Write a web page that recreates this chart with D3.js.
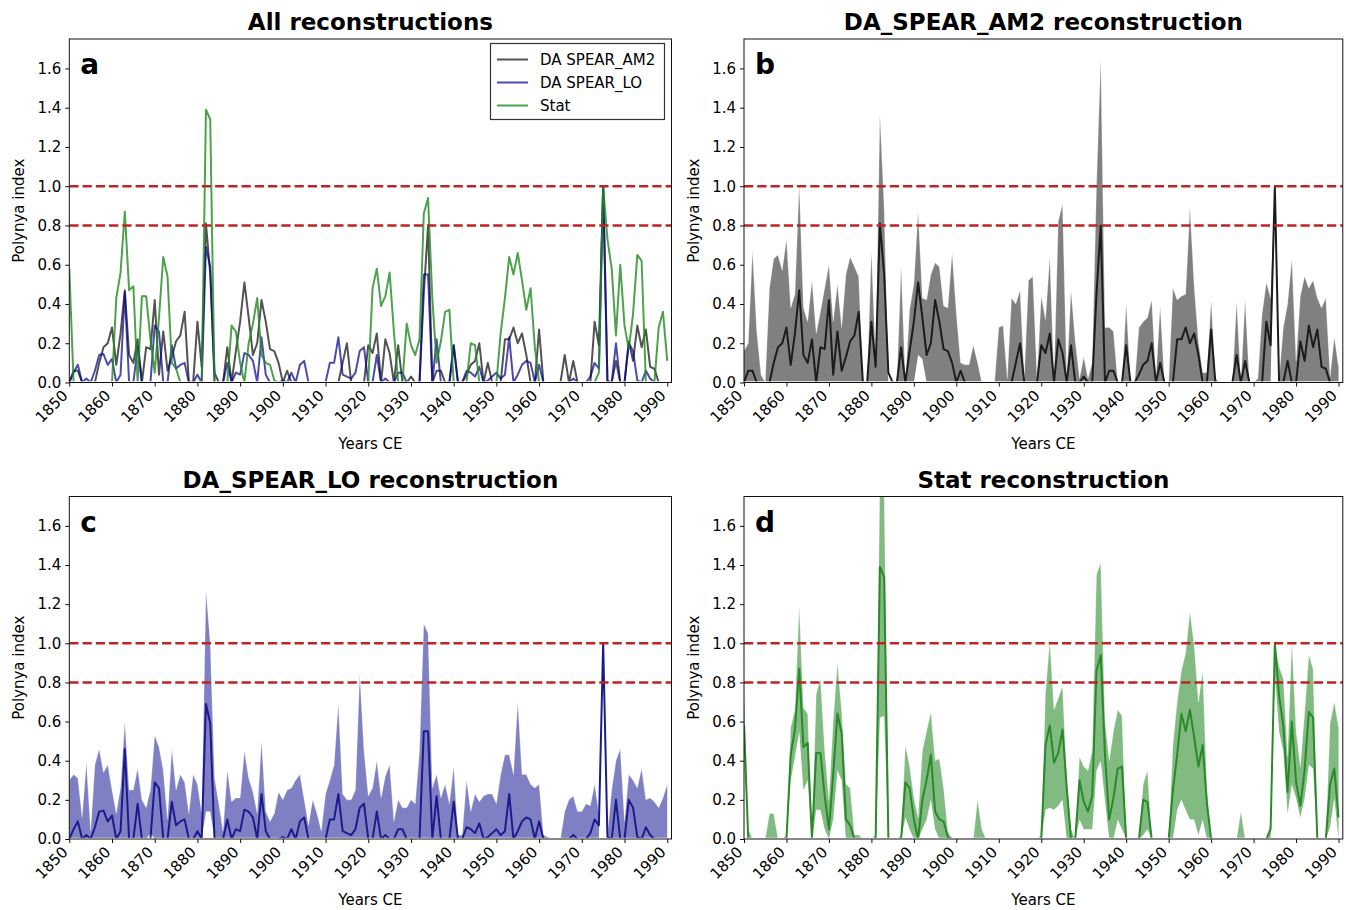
<!DOCTYPE html>
<html><head><meta charset="utf-8">
<script src="https://cdn.jsdelivr.net/npm/d3@7"></script>
<style>body{margin:0;background:#fff;} svg text{font-family:"DejaVu Sans",sans-serif;fill:#000;}</style>
</head><body><svg id="c" width="1346" height="910"></svg>
<script>
const startYear = 1850, endYear = 1990;
const years = d3.range(startYear, endYear + 1);

// DA SPEAR_AM2 (median, ensemble lower / upper)
const am2Median = [
 0,.06,.06,0,0,0,0,.10,.18,.20,
 .28,.09,.25,.47,.14,.10,.22,0,.18,.17,
 .42,.04,.26,.06,.13,.21,.24,.36,0,0,
 .31,.08,.81,.55,.05,0,0,.18,0,.16,
 .31,.51,.33,.14,.20,.42,.31,.17,.16,.10,
 0,.06,0,0,0,0,0,0,0,0,
 0,0,0,0,.10,.20,0,0,0,0,
 .19,.15,.25,0,.22,.15,0,.19,0,0,
 .03,0,0,.45,.80,0,.06,.06,0,0,
 .19,0,0,.04,.09,.11,.20,0,.10,0,
 0,0,.22,.22,.28,.20,.25,.14,0,0,
 .27,0,0,0,0,0,.14,0,.11,0,
 0,0,0,.31,.19,1.0,0,0,.11,0,
 0,.21,.11,.29,.18,.27,.08,.07,0,0,
 0];
const am2Lower = [
 0,0,0,0,0,0,0,0,0,0, 0,0,0,0,0,0,0,0,0,0, 0,0,0,0,0,0,0,0,0,0,
 0,0,0,0,0,0,0,0,0,0, 0,.14,.12,0,0,0,0,0,0,0, 0,0,0,0,0,0,0,0,0,0,
 0,0,0,0,0,0,0,0,0,0, 0,0,0,0,0,0,0,0,0,0, 0,0,0,0,0,0,0,0,0,0,
 0,0,0,0,0,0,0,0,0,0, 0,0,0,0,0,0,0,0,0,0, 0,0,0,0,0,0,0,0,0,0,
 0,0,0,0,0,1.0,0,0,0,0, 0,0,0,0,0,0,0,0,0,0, 0];
const am2Upper = [
 .16,.20,.67,.26,.04,0,.48,.63,.65,.57,
 .73,.38,.45,1.01,.38,.31,.52,.25,.36,.48,
 .60,.31,.50,.28,.55,.64,.59,.54,0,0,
 .67,.11,1.37,.89,0,0,0,.59,0,.37,
 .50,.87,.43,.42,.55,.61,.59,.39,.38,.66,
 .35,.10,.09,.09,.19,.10,0,0,0,0,
 .28,.29,.02,.43,.40,.47,.02,.52,.54,.02,
 .44,.32,.64,.02,.82,.91,.02,.47,.21,.02,
 .13,.02,.10,1.0,1.65,.28,.28,.26,0,0,
 .40,0,0,.28,.31,.33,.42,.02,.39,0,
 0,.48,.42,.44,.45,.89,.49,.21,.05,.05,
 .42,.02,0,0,0,0,.41,0,.42,0,
 0,.02,.35,.51,.43,1.0,.02,.28,.40,.63,
 .11,.44,.54,.48,.52,.43,.38,.43,.03,.23,
 .08];

// DA SPEAR_LO
const loMedian = [
 0,.05,.09,0,.02,0,.06,.14,.145,.09,
 .12,0,.04,.46,0,0,.18,0,0,0,
 .29,.26,0,0,.19,.07,.09,.10,0,0,
 .04,0,.69,.59,0,0,0,.10,0,.05,
 .04,.15,.14,.11,0,.23,.04,0,0,0,
 .01,0,.05,0,.09,.11,0,0,0,0,
 0,.10,.10,.23,.04,.03,.02,.05,.16,.18,
 0,0,.14,0,.02,0,0,.05,.05,0,
 0,0,0,.55,.55,0,.22,0,0,0,
 .19,0,0,.06,.05,.03,.08,0,.01,.03,
 .05,.02,.04,.23,0,.04,.09,.11,.10,0,
 .09,0,0,0,0,0,0,0,.02,0,
 0,0,.03,.10,.07,1.0,.01,0,.20,0,
 0,.20,.16,.01,0,.06,.02,0,0,0,
 0];
const loLower = [
 0,0,0,0,0,0,0,0,0,0, 0,0,0,0,0,0,0,0,0,.03, 0,0,0,0,0,0,0,0,0,0,
 0,0,.14,.14,0,0,0,0,0,0, 0,0,0,0,0,0,0,0,0,0, 0,0,0,0,0,0,0,0,0,0,
 0,0,0,0,0,0,0,0,0,0, 0,0,0,0,0,0,0,0,0,0, 0,0,0,0,0,0,0,0,0,0,
 0,0,0,0,0,0,0,0,0,0, 0,0,0,0,0,0,0,0,0,0, 0,0,0,0,0,0,0,0,0,0,
 0,0,0,0,0,1.0,0,0,0,0, 0,0,0,0,0,0,0,0,0,0, 0];
const loUpper = [
 .30,.33,.31,.11,.39,.04,.38,.46,.34,.38,
 .25,.13,.26,.60,.25,.25,.36,.20,.16,.25,
 .53,.47,.35,.10,.46,.25,.33,.29,.13,.33,
 .28,.13,1.27,1.00,.31,.18,.04,.35,.19,.21,
 .21,.45,.31,.24,.13,.50,.14,.09,.13,.24,
 .20,.25,.26,.30,.33,.20,.07,.20,.13,.04,
 .23,.30,.38,.69,.23,.20,.20,.25,.84,.45,
 .22,.26,.40,.21,.32,.38,.09,.20,.16,.16,
 .20,.18,.45,1.10,1.05,.26,.33,.21,.28,.18,
 .37,.02,.02,.30,.14,.23,.19,.22,.23,.23,
 .18,.33,.43,.43,.33,.70,.33,.33,.28,.26,
 .28,.02,.01,0,0,0,.14,.20,.22,.14,
 .14,.18,.17,.28,.13,1.0,.02,.25,.40,.46,
 .09,.33,.30,.26,.36,.20,.21,.19,.16,.21,
 .28];

// Stat
const statMedian = [
 .58,0,0,0,0,0,0,0,0,0,
 0,.43,.56,.87,.47,.49,0,.44,.44,.22,
 .05,.33,.64,.54,.10,.07,0,0,0,0,
 0,0,1.39,1.34,0,0,0,0,.29,.26,
 .10,0,.20,.30,.43,.14,.10,.09,.01,0,
 0,0,0,0,0,0,0,0,0,0,
 0,0,0,0,0,0,0,0,0,0,
 0,.48,.58,.39,.44,.56,.26,0,0,.30,
 .19,.14,.22,.86,.94,.43,.10,.21,.36,.37,
 0,0,0,0,.20,.19,0,0,0,0,
 0,.25,.43,.64,.55,.66,.52,.37,.48,.18,
 0,0,0,0,0,0,0,0,0,0,
 0,0,0,0,.05,1.0,.73,.58,.24,.60,
 .29,.17,.35,.65,.62,0,0,0,.28,.36,
 .11];
const statLower = [
 .55,0,0,0,0,0,0,0,0,0,
 0,.30,.42,.55,.25,.30,0,.15,.15,.05,
 0,.10,.35,.30,0,0,0,0,0,0,
 0,0,.62,.63,0,0,0,0,.11,.05,
 0,0,.05,.10,.20,.05,0,0,0,0,
 0,0,0,0,0,0,0,0,0,0, 0,0,0,0,0,0,0,0,0,0,
 0,.15,.16,.15,.17,.20,0,0,0,.10,
 .05,.05,.05,.35,.40,.20,0,0,.10,.05,
 0,0,0,0,.02,.05,0,0,0,0,
 0,0,.15,.20,.15,.10,.10,.02,.10,0,
 0,0,0,0,0,0,0,0,0,0,
 0,0,0,0,0,.85,.55,.45,.13,.28,
 .21,.11,.21,.38,.36,0,0,0,.06,.21,
 0];
const statUpper = [
 .77,.05,0,0,0,0,.13,.13,0,0,
 .02,.57,.66,1.19,.67,.64,0,.74,.82,.45,
 .20,.60,.90,.65,.28,.26,.02,.02,0,0,
 0,.02,1.85,1.80,0,0,0,.02,.48,.37,
 .21,.11,.45,.55,.65,.40,.41,.26,.04,0,
 0,0,0,0,0,.20,.05,0,0,0,
 0,0,0,0,0,0,0,0,0,0,
 .02,.75,1.01,.66,.72,.78,.30,.05,0,.42,
 .37,.35,.45,1.35,1.41,.60,.40,.55,.66,.63,
 0,0,0,0,.28,.35,0,0,0,0,
 0,.48,.70,.86,.95,1.16,.99,.70,.86,.26,
 0,0,0,0,0,0,0,.14,0,0,
 0,0,0,0,.08,1.0,.88,.82,.42,1.01,
 .55,.37,.64,.94,.87,0,0,0,.59,.70,
 .57];

const yTickValues = [0, 0.2, 0.4, 0.6, 0.8, 1.0, 1.2, 1.4, 1.6];
const xTickValues = d3.range(1850, 1991, 10);
const thresholds = [1.0, 0.8];
const seriesNames = ["DA SPEAR_AM2", "DA SPEAR_LO", "Stat"];

const svg = d3.select("#c");
const FONT = 15;

const panels = [
  {letter: "a", title: "All reconstructions", left: 69.3, right: 671.5, top: 39, bottom: 382.5, kind: "all"},
  {letter: "b", title: "DA_SPEAR_AM2 reconstruction", left: 744, right: 1342.8, top: 39, bottom: 382.5, kind: "band",
   med: am2Median, lo: am2Lower, up: am2Upper, fill: "#808080", line: "#1c1c1c"},
  {letter: "c", title: "DA_SPEAR_LO reconstruction", left: 69.3, right: 671.5, top: 496.5, bottom: 839, kind: "band",
   med: loMedian, lo: loLower, up: loUpper, fill: "#7f80c3", line: "#1b1b8e"},
  {letter: "d", title: "Stat reconstruction", left: 744, right: 1342.8, top: 496.5, bottom: 839, kind: "band",
   med: statMedian, lo: statLower, up: statUpper, fill: "#82bb82", line: "#2a8a2a"}
];

// a point is drawn when it, or a neighbour, is above zero (runs of zeros stay hidden on the axis)
const visible = arr => (d, i) => d > 0 || (i > 0 && arr[i - 1] > 0) || (i < arr.length - 1 && arr[i + 1] > 0);

panels.forEach((p, pi) => {
  const x = d3.scaleLinear().domain([1850, 1991]).range([p.left, p.right]);
  const y = d3.scaleLinear().domain([0, 1.75]).range([p.bottom, p.top]);
  const g = svg.append("g");
  const clipId = "clip" + pi;
  svg.append("clipPath").attr("id", clipId).append("rect")
    .attr("x", p.left).attr("y", p.top).attr("width", p.right - p.left).attr("height", p.bottom - p.top - 1.2);
  const plot = g.append("g").attr("clip-path", `url(#${clipId})`);

  const lineFor = arr => d3.line().defined(visible(arr)).x((d, i) => x(years[i])).y(d => y(d));

  if (p.kind === "band") {
    const area = d3.area().x((d, i) => x(years[i])).y0((d, i) => y(p.lo[i])).y1((d, i) => y(p.up[i]));
    plot.append("path").datum(p.up).attr("d", area).attr("fill", p.fill).attr("stroke", "none");
    plot.append("path").datum(p.up).attr("d", lineFor(p.up))
      .attr("fill", "none").attr("stroke", "#ffffff").attr("stroke-opacity", 0.35).attr("stroke-width", 0.8);
    plot.append("path").datum(p.med).attr("d", lineFor(p.med)).attr("fill", "none")
      .attr("stroke", p.line).attr("stroke-width", 2).attr("stroke-linejoin", "round");
  } else {
    const defs = [
      {data: am2Median, color: "#000000", op: 0.68},
      {data: loMedian, color: "#00008b", op: 0.7},
      {data: statMedian, color: "#228b22", op: 0.8}
    ];
    defs.forEach(s => {
      plot.append("path").datum(s.data).attr("d", lineFor(s.data)).attr("fill", "none")
        .attr("stroke", s.color).attr("stroke-opacity", s.op).attr("stroke-width", 2).attr("stroke-linejoin", "round");
    });
    // legend
    const lg = g.append("g");
    lg.append("rect").attr("x", 490.5).attr("y", 43.5).attr("width", 174).attr("height", 76)
      .attr("fill", "#fff").attr("stroke", "#333").attr("stroke-width", 1.2);
    defs.forEach((s, i) => {
      const yy = 59.5 + i * 23;
      lg.append("line").attr("x1", 497).attr("x2", 528).attr("y1", yy).attr("y2", yy)
        .attr("stroke", s.color).attr("stroke-opacity", s.op).attr("stroke-width", 2);
      lg.append("text").attr("x", 540).attr("y", yy).attr("dy", "0.36em")
        .attr("font-size", FONT).text(seriesNames[i]);
    });
  }

  // threshold lines
  thresholds.forEach(t => {
    plot.append("line").attr("x1", p.left).attr("x2", p.right).attr("y1", y(t)).attr("y2", y(t))
      .attr("stroke", "#bd2426").attr("stroke-width", 2.5).attr("stroke-dasharray", "9.25,4");
  });

  // frame
  g.append("rect").attr("x", p.left).attr("y", p.top).attr("width", p.right - p.left).attr("height", p.bottom - p.top)
    .attr("fill", "none").attr("stroke", "#111").attr("stroke-width", 1);

  // y axis
  const ya = g.append("g").attr("transform", `translate(${p.left},0)`)
    .call(d3.axisLeft(y).tickValues(yTickValues).tickFormat(d3.format(".1f")).tickSize(4).tickPadding(4).tickSizeOuter(0));
  ya.select(".domain").remove();
  ya.selectAll("text").attr("font-size", FONT).attr("font-family", "DejaVu Sans").attr("fill", "#000");
  ya.selectAll("line").attr("stroke", "#111");

  // x axis
  const xa = g.append("g").attr("transform", `translate(0,${p.bottom})`)
    .call(d3.axisBottom(x).tickValues(xTickValues).tickFormat(d3.format("d")).tickSize(4).tickSizeOuter(0));
  xa.select(".domain").remove();
  xa.selectAll("line").attr("stroke", "#111");
  xa.selectAll("text").attr("font-size", FONT).attr("font-family", "DejaVu Sans").attr("fill", "#000")
    .attr("text-anchor", "end").attr("y", null).attr("dy", null)
    .attr("transform", "translate(-1,14) rotate(-45)");

  // labels
  g.append("text").attr("x", (p.left + p.right) / 2).attr("y", p.bottom + 66)
    .attr("text-anchor", "middle").attr("font-size", FONT).text("Years CE");
  g.append("text").attr("transform", `translate(${p.left - 45},${(p.top + p.bottom) / 2}) rotate(-90)`)
    .attr("text-anchor", "middle").attr("font-size", FONT).text("Polynya index");
  g.append("text").attr("x", (p.left + p.right) / 2).attr("y", p.top - 9)
    .attr("text-anchor", "middle").attr("font-size", 23).attr("font-weight", "bold").text(p.title);
  g.append("text").attr("x", p.left + 11).attr("y", p.top + 35)
    .attr("font-size", 28).attr("font-weight", "bold").text(p.letter);
});
</script></body></html>
